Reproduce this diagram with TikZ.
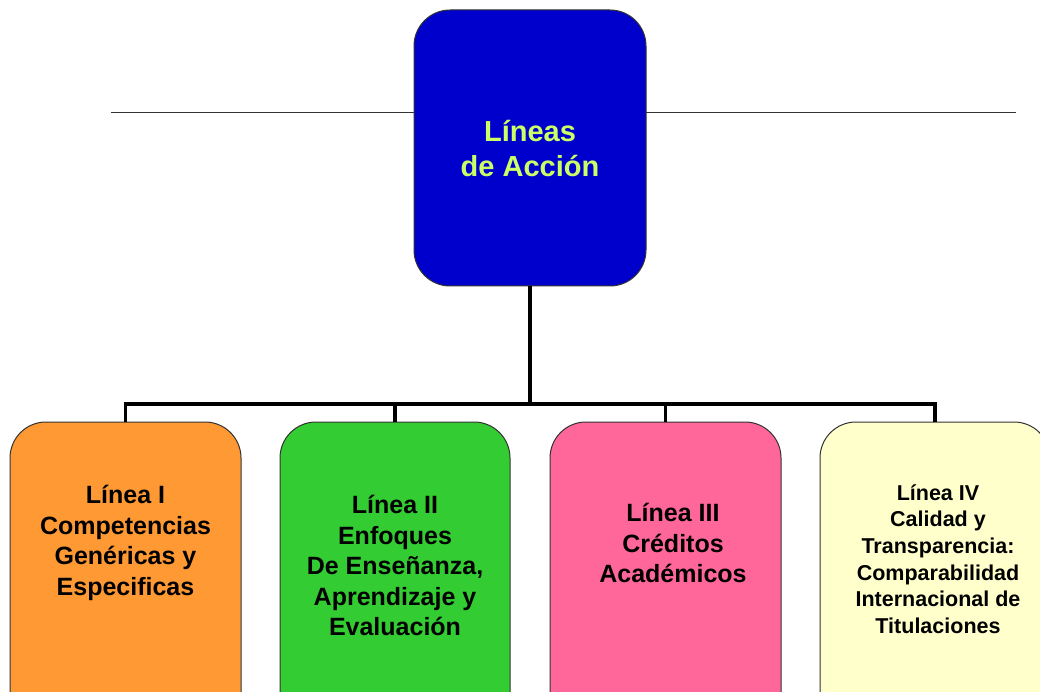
\documentclass[tikz,border=0pt]{standalone}
\usepackage{fontspec}
\setmainfont{Liberation Sans}
\definecolor{topblue}{HTML}{0000CC}
\definecolor{toptext}{HTML}{CCFF66}
\definecolor{orangebox}{HTML}{FF9933}
\definecolor{greenbox}{HTML}{33CC33}
\definecolor{pinkbox}{HTML}{FF6699}
\definecolor{yellowbox}{HTML}{FFFFCC}
\definecolor{edgegray}{HTML}{333333}
\begin{document}
\begin{tikzpicture}[x=1pt,y=-1pt,
  box/.style={draw=edgegray,line width=1pt,rounded corners=36pt,inner sep=0pt},
  lbl/.style={align=center,font=\bfseries\fontsize{25}{30.5}\selectfont,inner sep=0pt},
  conn/.style={line width=3.5pt,draw=black},
]
\useasboundingbox (0,0) rectangle (1040,692);
\clip (0,0) rectangle (1040,692);
\fill[white] (0,0) rectangle (1040,692);
% thin horizontal rule
\coordinate (rl) at (111,113);
\coordinate (rr) at (1016,113);
\draw[line width=1pt,draw=edgegray] (rl) -- (rr);
% top box
\node[box,fill=topblue,minimum width=232pt,minimum height=276pt] (top) at (530,148) {};
\node[lbl,text=toptext,font=\bfseries\fontsize{29}{35}\selectfont] (toplbl) at (530,149) {Líneas\\de Acción};
% bottom boxes
\node[box,fill=orangebox,minimum width=231pt,minimum height=360pt] (b1) at (125.5,602) {};
\node[box,fill=greenbox,minimum width=230pt,minimum height=360pt] (b2) at (395,602) {};
\node[box,fill=pinkbox,minimum width=231pt,minimum height=360pt] (b3) at (665.5,602) {};
\node[box,fill=yellowbox,minimum width=230pt,minimum height=360pt] (b4) at (935,602) {};
% connectors
\coordinate (bus) at (530,404);
\draw[conn] (top.south) -- (bus);
\draw[conn] (b1.north) |- (bus);
\draw[conn] (b4.north) |- (bus);
\draw[conn] (b2.north) -- (b2.north |- bus);
\draw[conn] (b3.north) -- (b3.north |- bus);
% labels
\node[lbl] (t1) at (125.5,543) {Línea I\\Competencias\\Genéricas y\\Especificas};
\node[lbl] (t2) at (395,565.5) {Línea II\\Enfoques\\De Enseñanza,\\Aprendizaje y\\Evaluación};
\node[lbl] (t3) at (673,543) {Línea III\\Créditos\\Académicos};
\node[lbl,font=\bfseries\fontsize{21.5}{26.6}\selectfont] (t4) at (938,559) {Línea IV\\Calidad y\\Transparencia:\\Comparabilidad\\Internacional de\\Titulaciones};
\end{tikzpicture}
\end{document}
